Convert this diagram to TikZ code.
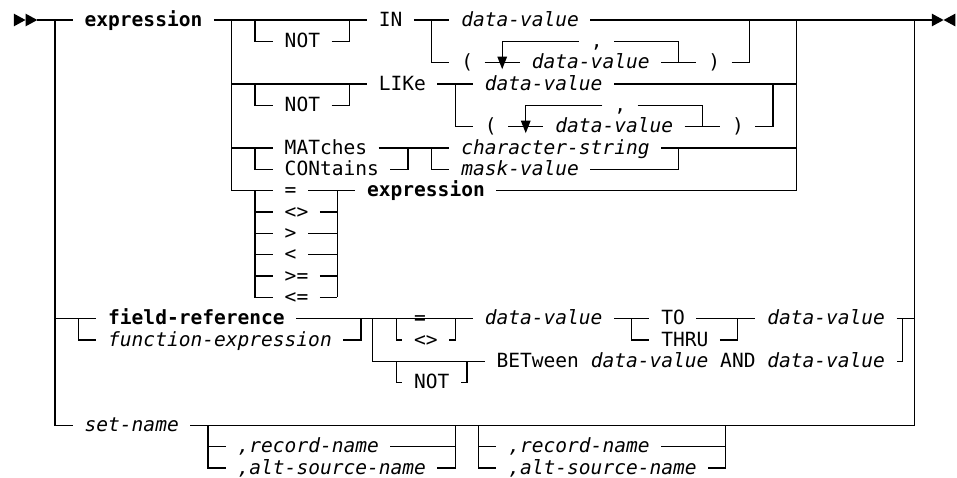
\documentclass[tikz,border=0pt]{standalone}
\usepackage{fontspec}
\usepackage{tikz}
\newfontfamily\railmono{DejaVu Sans Mono}
\newcommand{\railfont}{\railmono\fontsize{14.66pt}{16pt}\selectfont}

\begin{document}
\begin{tikzpicture}[x=8.8275pt, y=-16pt,
    rail/.style={line width=0.9pt},
    kw/.style={anchor=base west, inner sep=0pt, yshift=-4.7pt, font=\railfont},
    var/.style={kw, font=\railfont\itshape},
    strong/.style={kw, font=\railfont\bfseries}]
  \path[fill=white] (-0.67,-0.9375) rectangle (80.64,21.42);

  % start and end marks
  \fill (0.5,-0.3) -- (1.5,0) -- (0.5,0.3) -- cycle;
  \fill (1.5,-0.3) -- (2.5,0) -- (1.5,0.3) -- cycle;
  \fill (78.5,-0.3) -- (79.5,0) -- (78.5,0.3) -- cycle;
  \fill (80.5,-0.3) -- (79.5,0) -- (80.5,0.3) -- cycle;

  % main track and outer branches
  \draw[rail] (2.5,0) -- (5.5,0);
  \draw[rail] (17.5,0) -- (30.5,0);
  \draw[rail] (34.5,0) -- (37.5,0);
  \draw[rail] (49.5,0) -- (78.5,0);
  \draw[rail] (4,0) -- (4,19) -- (5.5,19);
  \draw[rail] (4,14) -- (7.5,14);
  \draw[rail] (77,0) -- (77,19) -- (15.5,19);

  % expression operand
  \node[strong] (expr) at (6.5,0) {expression};
  \draw[rail] (19,0) -- (19,8) -- (22.5,8);
  \draw[rail] (19,3) -- (30.5,3);
  \draw[rail] (19,6) -- (22.5,6);
  \draw[rail] (67,0) -- (67,8) -- (41.5,8);
  \draw[rail] (51.5,3) -- (67,3);
  \draw[rail] (55.5,6) -- (67,6);

  % IN
  \node[kw] (not1) at (23.5,1) {NOT};
  \draw[rail] (21,0) -- (21,1) -- (22.5,1);
  \draw[rail] (27.5,1) -- (29,1) -- (29,0);
  \node[kw] (in) at (31.5,0) {IN};
  \node[var] (inval) at (38.5,0) {data-value};
  \draw[rail] (36,0) -- (36,2) -- (37.5,2);
  \node[kw] (inopen) at (38.5,2) {(};
  \node[var] (inlist) at (44.5,2) {data-value};
  \node[kw] (inclose) at (59.5,2) {)};
  \node[kw] (incomma) at (49.5,1) {,};
  \draw[rail] (40.5,2) -- (43.5,2);
  \draw[rail] (48.5,1) -- (42,1) -- (42,2);
  \fill (41.58,1.72) -- (42.42,1.72) -- (42,2.3) -- cycle;
  \draw[rail] (51.5,1) -- (57,1) -- (57,2);
  \draw[rail] (55.5,2) -- (58.5,2);
  \draw[rail] (61.5,2) -- (63,2) -- (63,0);

  % LIKe
  \node[kw] (not2) at (23.5,4) {NOT};
  \draw[rail] (21,3) -- (21,4) -- (22.5,4);
  \draw[rail] (27.5,4) -- (29,4) -- (29,3);
  \node[kw] (like) at (31.5,3) {LIKe};
  \node[var] (likeval) at (40.5,3) {data-value};
  \draw[rail] (36.5,3) -- (39.5,3);
  \draw[rail] (38,3) -- (38,5) -- (39.5,5);
  \node[kw] (likeopen) at (40.5,5) {(};
  \node[var] (likelist) at (46.5,5) {data-value};
  \node[kw] (likeclose) at (61.5,5) {)};
  \node[kw] (likecomma) at (51.5,4) {,};
  \draw[rail] (42.5,5) -- (45.5,5);
  \draw[rail] (50.5,4) -- (44,4) -- (44,5);
  \fill (43.58,4.72) -- (44.42,4.72) -- (44,5.3) -- cycle;
  \draw[rail] (53.5,4) -- (59,4) -- (59,5);
  \draw[rail] (57.5,5) -- (60.5,5);
  \draw[rail] (63.5,5) -- (65,5) -- (65,3);

  % MATches / CONtains
  \node[kw] (mat) at (23.5,6) {MATches};
  \node[kw] (con) at (23.5,7) {CONtains};
  \draw[rail] (21,6) -- (21,7) -- (22.5,7);
  \draw[rail] (31.5,6) -- (37.5,6);
  \draw[rail] (32.5,7) -- (34,7) -- (34,6);
  \node[var] (charstr) at (38.5,6) {character-string};
  \node[var] (mask) at (38.5,7) {mask-value};
  \draw[rail] (36,6) -- (36,7) -- (37.5,7);
  \draw[rail] (49.5,7) -- (57,7) -- (57,6);

  % comparison operators
  \node[kw] (eq) at (23.5,8) {=};
  \node[strong] (expr2) at (30.5,8) {expression};
  \draw[rail] (25.5,8) -- (29.5,8);
  \draw[rail] (21,8) -- (21,13) -- (22.5,13);
  \draw[rail] (28,8) -- (28,13);
  \foreach \op/\r/\e in {{<>}/9/26.5, {>}/10/25.5, {<}/11/25.5, {>=}/12/26.5, {<=}/13/26.5} {
    \node[kw] (op\r) at (23.5,\r) {\op};
    \draw[rail] (21,\r) -- (22.5,\r);
    \draw[rail] (\e,\r) -- (28,\r);
  }

  % field-reference
  \node[strong] (field) at (8.5,14) {field-reference};
  \node[var] (func) at (8.5,15) {function-expression};
  \draw[rail] (6,14) -- (6,15) -- (7.5,15);
  \draw[rail] (24.5,14) -- (39.5,14);
  \draw[rail] (28.5,15) -- (30,15) -- (30,14);
  \draw[rail] (31,14) -- (31,16) -- (40.5,16);
  \node[kw] (eq2) at (34.5,14) {=};
  \node[kw] (ne2) at (34.5,15) {<>};
  \draw[rail] (33,14) -- (33,15) -- (33.5,15);
  \draw[rail] (37.5,15) -- (38,15) -- (38,14);
  \node[var] (from) at (40.5,14) {data-value};
  \node[kw] (to) at (55.5,14) {TO};
  \node[kw] (thru) at (55.5,15) {THRU};
  \draw[rail] (51.5,14) -- (54.5,14);
  \draw[rail] (53,14) -- (53,15) -- (54.5,15);
  \draw[rail] (58.5,14) -- (63.5,14);
  \draw[rail] (60.5,15) -- (62,15) -- (62,14);
  \node[var] (upto) at (64.5,14) {data-value};
  \draw[rail] (75.5,14) -- (77,14);
  \draw[rail] (76,14) -- (76,16) -- (75.5,16);

  % BETween
  \node[kw] (not3) at (34.5,17) {NOT};
  \draw[rail] (33,16) -- (33,17) -- (33.5,17);
  \draw[rail] (38.5,17) -- (39,17) -- (39,16);
  \node[kw] (btw) at (41.5,16) {BETween};
  \node[var] (lo) at (49.5,16) {data-value};
  \node[kw] (and) at (60.5,16) {AND};
  \node[var] (hi) at (64.5,16) {data-value};

  % set-name
  \node[var] (set) at (6.5,19) {set-name};
  \node[var] (rec1) at (19.5,20) {,record-name};
  \node[var] (alt1) at (19.5,21) {,alt-source-name};
  \draw[rail] (17,19) -- (17,21) -- (18.5,21);
  \draw[rail] (17,20) -- (18.5,20);
  \draw[rail] (32.5,20) -- (38,20);
  \draw[rail] (36.5,21) -- (38,21) -- (38,19);
  \node[var] (rec2) at (42.5,20) {,record-name};
  \node[var] (alt2) at (42.5,21) {,alt-source-name};
  \draw[rail] (40,19) -- (40,21) -- (41.5,21);
  \draw[rail] (40,20) -- (41.5,20);
  \draw[rail] (55.5,20) -- (61,20);
  \draw[rail] (59.5,21) -- (61,21) -- (61,19);
\end{tikzpicture}
\end{document}
